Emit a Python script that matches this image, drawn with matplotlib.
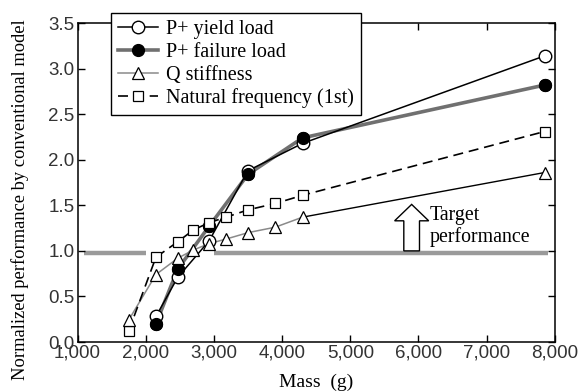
import matplotlib
matplotlib.use("Agg")
import matplotlib.pyplot as plt
from matplotlib.patches import FancyArrow
import numpy as np

# data
mass_p = [2150, 2470, 2930, 3500, 4300, 7850]
yield_load = [0.28, 0.71, 1.11, 1.88, 2.18, 3.14]
failure_load = [0.20, 0.80, 1.27, 1.84, 2.24, 2.82]

mass_q = [1750, 2150, 2470, 2700, 2930, 3180, 3500, 3900, 4300, 7850]
q_stiffness = [0.24, 0.74, 0.92, 1.01, 1.08, 1.13, 1.20, 1.26, 1.37, 1.86]
nat_freq = [0.12, 0.93, 1.10, 1.23, 1.31, 1.37, 1.45, 1.52, 1.61, 2.31]

target = 0.98
target_spans = [(1100, 2000), (3000, 7900)]

serif = "Liberation Serif"
sans = "Liberation Sans"

fig = plt.figure(figsize=(5.81, 3.91), dpi=100)
ax = fig.add_axes([0.1334, 0.1253, 0.8216, 0.8157])

# target line
for a, b in target_spans:
    ax.plot([a, b], [target, target], color="#9a9a9a", lw=3.2, solid_capstyle="butt", zorder=1)

ax.add_patch(FancyArrow(5900, 1.0, 0, 0.33, width=230, head_width=500, head_length=0.18,
                        length_includes_head=False, facecolor="white", edgecolor="black",
                        lw=1.0, zorder=2))
ax.text(6170, 1.39, "Target", family=serif, fontsize=14.3, va="center", ha="left")
ax.text(6170, 1.15, "performance", family=serif, fontsize=14.3, va="center", ha="left")

# Q stiffness: gray thin line, last segment black
ax.plot(mass_q[:-1], q_stiffness[:-1], color="#8a8a8a", lw=1.1, zorder=3)
ax.plot(mass_q[-2:], q_stiffness[-2:], color="black", lw=1.0, zorder=3)
ax.plot(mass_q, q_stiffness, ls="none", marker="^", ms=8.5, mfc="white", mec="black", mew=0.9, zorder=6)
h_q, = ax.plot([], [], color="#8a8a8a", lw=1.1, marker="^", ms=8.5, mfc="white", mec="black", mew=0.9)

h_nf, = ax.plot(mass_q, nat_freq, color="black", lw=1.2, ls=(0, (6, 3.5)), marker="s", ms=7.5,
                mfc="white", mec="black", mew=0.9, zorder=5)

h_fail, = ax.plot(mass_p, failure_load, color="#707070", lw=2.6, marker="o", ms=8.5,
                  mfc="black", mec="black", zorder=4)
h_yield, = ax.plot(mass_p, yield_load, color="black", lw=1.1, marker="o", ms=9,
                   mfc="white", mec="black", mew=1.0, zorder=4)
# keep filled marks on top of the yield line, as in the reference
ax.plot(mass_p, failure_load, ls="none", marker="o", ms=8.5, mfc="black", mec="black", zorder=4.5)

ax.set_xlim(1000, 8000)
ax.set_ylim(0, 3.5)
ax.set_xticks(np.arange(1000, 8001, 1000))
ax.set_xticklabels([f"{v:,}" for v in range(1000, 8001, 1000)])
ax.set_yticks(np.arange(0, 3.51, 0.5))
ax.set_yticklabels([f"{v:.1f}" for v in np.arange(0, 3.51, 0.5)])
ax.tick_params(direction="in", top=True, right=True, length=5, width=1,
               labelsize=13.5, labelcolor="#333333", pad=2)
for lab in ax.get_xticklabels() + ax.get_yticklabels():
    lab.set_family(sans)
for s in ax.spines.values():
    s.set_linewidth(1.1)

fig.text(0.034, 1 - 200 / 391, "Normalized performance by conventional model", family=serif,
         fontsize=13.3, rotation=90, ha="center", va="center")
fig.text(316 / 581, 1 - 382 / 391, "Mass  (g)", family=serif, fontsize=14, ha="center", va="center")

leg = fig.legend([h_yield, h_fail, h_q, h_nf],
                 ["P+ yield load", "P+ failure load", "Q stiffness", "Natural frequency (1st)"],
                 loc="upper left", bbox_to_anchor=(111 / 581, 1 - 12.7 / 391),
                 prop={"family": serif, "size": 14.5}, frameon=True, fancybox=False,
                 edgecolor="black", framealpha=1, handlelength=2.0, handletextpad=0.4,
                 labelspacing=0.19, borderpad=0.35, borderaxespad=0)
leg.get_frame().set_linewidth(1.0)

fig.savefig("out.png", dpi=100)
